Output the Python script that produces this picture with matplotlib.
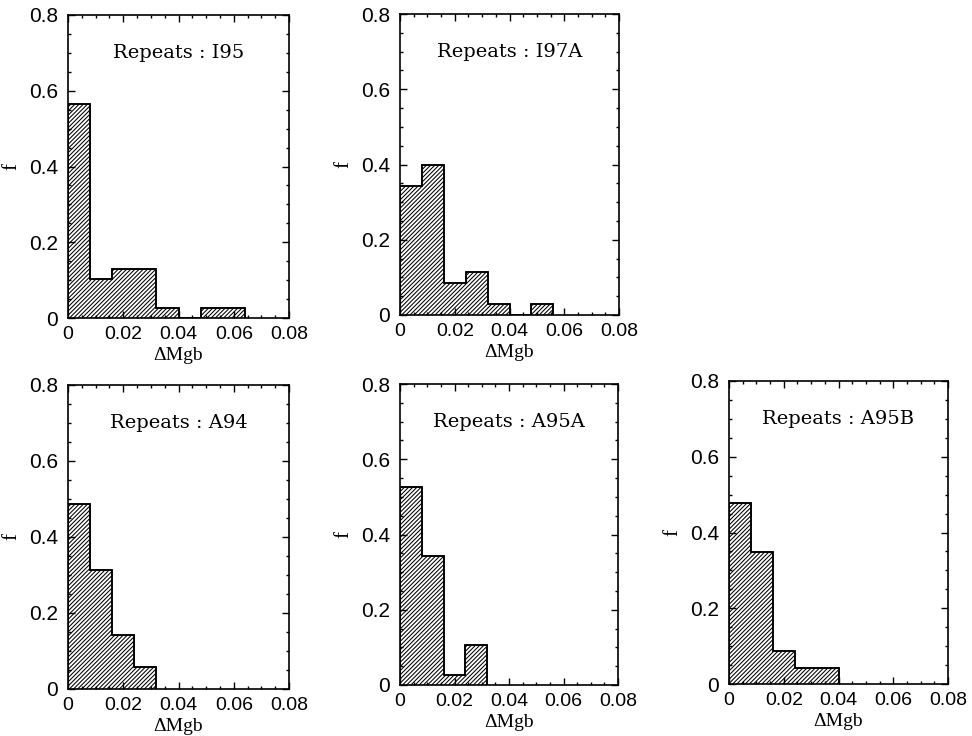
import matplotlib
matplotlib.use("Agg")
import matplotlib.pyplot as plt
from matplotlib.ticker import MultipleLocator, FuncFormatter
import numpy as np

# histogram counts per 0.008 bin, and the number of repeats in each run
bin_width = 0.008
names = ["I95", "I97A", "A94", "A95A", "A95B"]
counts_i95 = [22, 4, 5, 5, 1, 0, 1, 1]
counts_i97a = [12, 14, 3, 4, 1, 0, 1]
counts_a94 = [17, 11, 5, 2]
counts_a95a = [20, 13, 1, 4]
counts_a95b = [11, 8, 2, 1, 1]
totals = [39, 35, 35, 38, 23]
all_counts = [counts_i95, counts_i97a, counts_a94, counts_a95a, counts_a95b]

x_ticks = [0, 0.02, 0.04, 0.06, 0.08]
y_ticks = [0, 0.2, 0.4, 0.6, 0.8]

plt.rcParams['hatch.linewidth'] = 0.75

fig = plt.figure(figsize=(9.72, 7.36), dpi=100)

# axes boxes in pixels: left, top, right, bottom
boxes = [(68, 15, 289, 318), (400, 14, 619, 315),
         (68, 385, 289, 689), (400, 384, 618, 685),
         (729, 381, 948, 684)]
W, H = 972, 736

def fmt(v, pos):
    if abs(v) < 1e-9:
        return "0"
    return f"{v:g}"

for name, counts, n, (l, t, r, b) in zip(names, all_counts, totals, boxes):
    ax = fig.add_axes([l / W, (H - b) / H, (r - l) / W, (b - t) / H])
    frac = np.array(counts) / n
    edges = bin_width * np.arange(len(counts) + 1)
    ax.stairs(frac, edges, fill=True, hatch='////////', facecolor='white',
              edgecolor='black', linewidth=1.1)
    ax.stairs(frac, edges, fill=False, color='black', linewidth=1.2)

    ax.set_xlim(0, 0.08)
    ax.set_ylim(0, 0.8)
    ax.set_xticks(x_ticks)
    ax.set_yticks(y_ticks)
    ax.xaxis.set_minor_locator(MultipleLocator(0.005))
    ax.yaxis.set_minor_locator(MultipleLocator(0.05))
    ax.xaxis.set_major_formatter(FuncFormatter(fmt))
    ax.yaxis.set_major_formatter(FuncFormatter(fmt))
    ax.tick_params(which='both', direction='in', top=True, right=True,
                   width=1.0)
    ax.tick_params(which='major', length=5)
    ax.tick_params(which='minor', length=2.5)
    ax.tick_params(axis='x', labelsize=14, pad=6)
    ax.tick_params(axis='y', labelsize=15, pad=7)
    for lab in ax.get_xticklabels() + ax.get_yticklabels():
        lab.set_family('Liberation Sans')
    for s in ax.spines.values():
        s.set_linewidth(1.2)

    ax.set_xlabel("ΔMgb", family='Liberation Serif', fontsize=14, va='top')
    ax.xaxis.set_label_coords(0.5, -29 / (b - t))
    ax.set_ylabel("f", family='Liberation Serif', fontsize=15, va='center')
    ax.yaxis.set_label_coords(-56 / (r - l), 0.5)

    ax.text(0.5, 0.875, f"Repeats : {name}", transform=ax.transAxes,
            ha='center', va='center', family='DejaVu Serif', fontsize=14)

fig.savefig("out.png", dpi=100)
